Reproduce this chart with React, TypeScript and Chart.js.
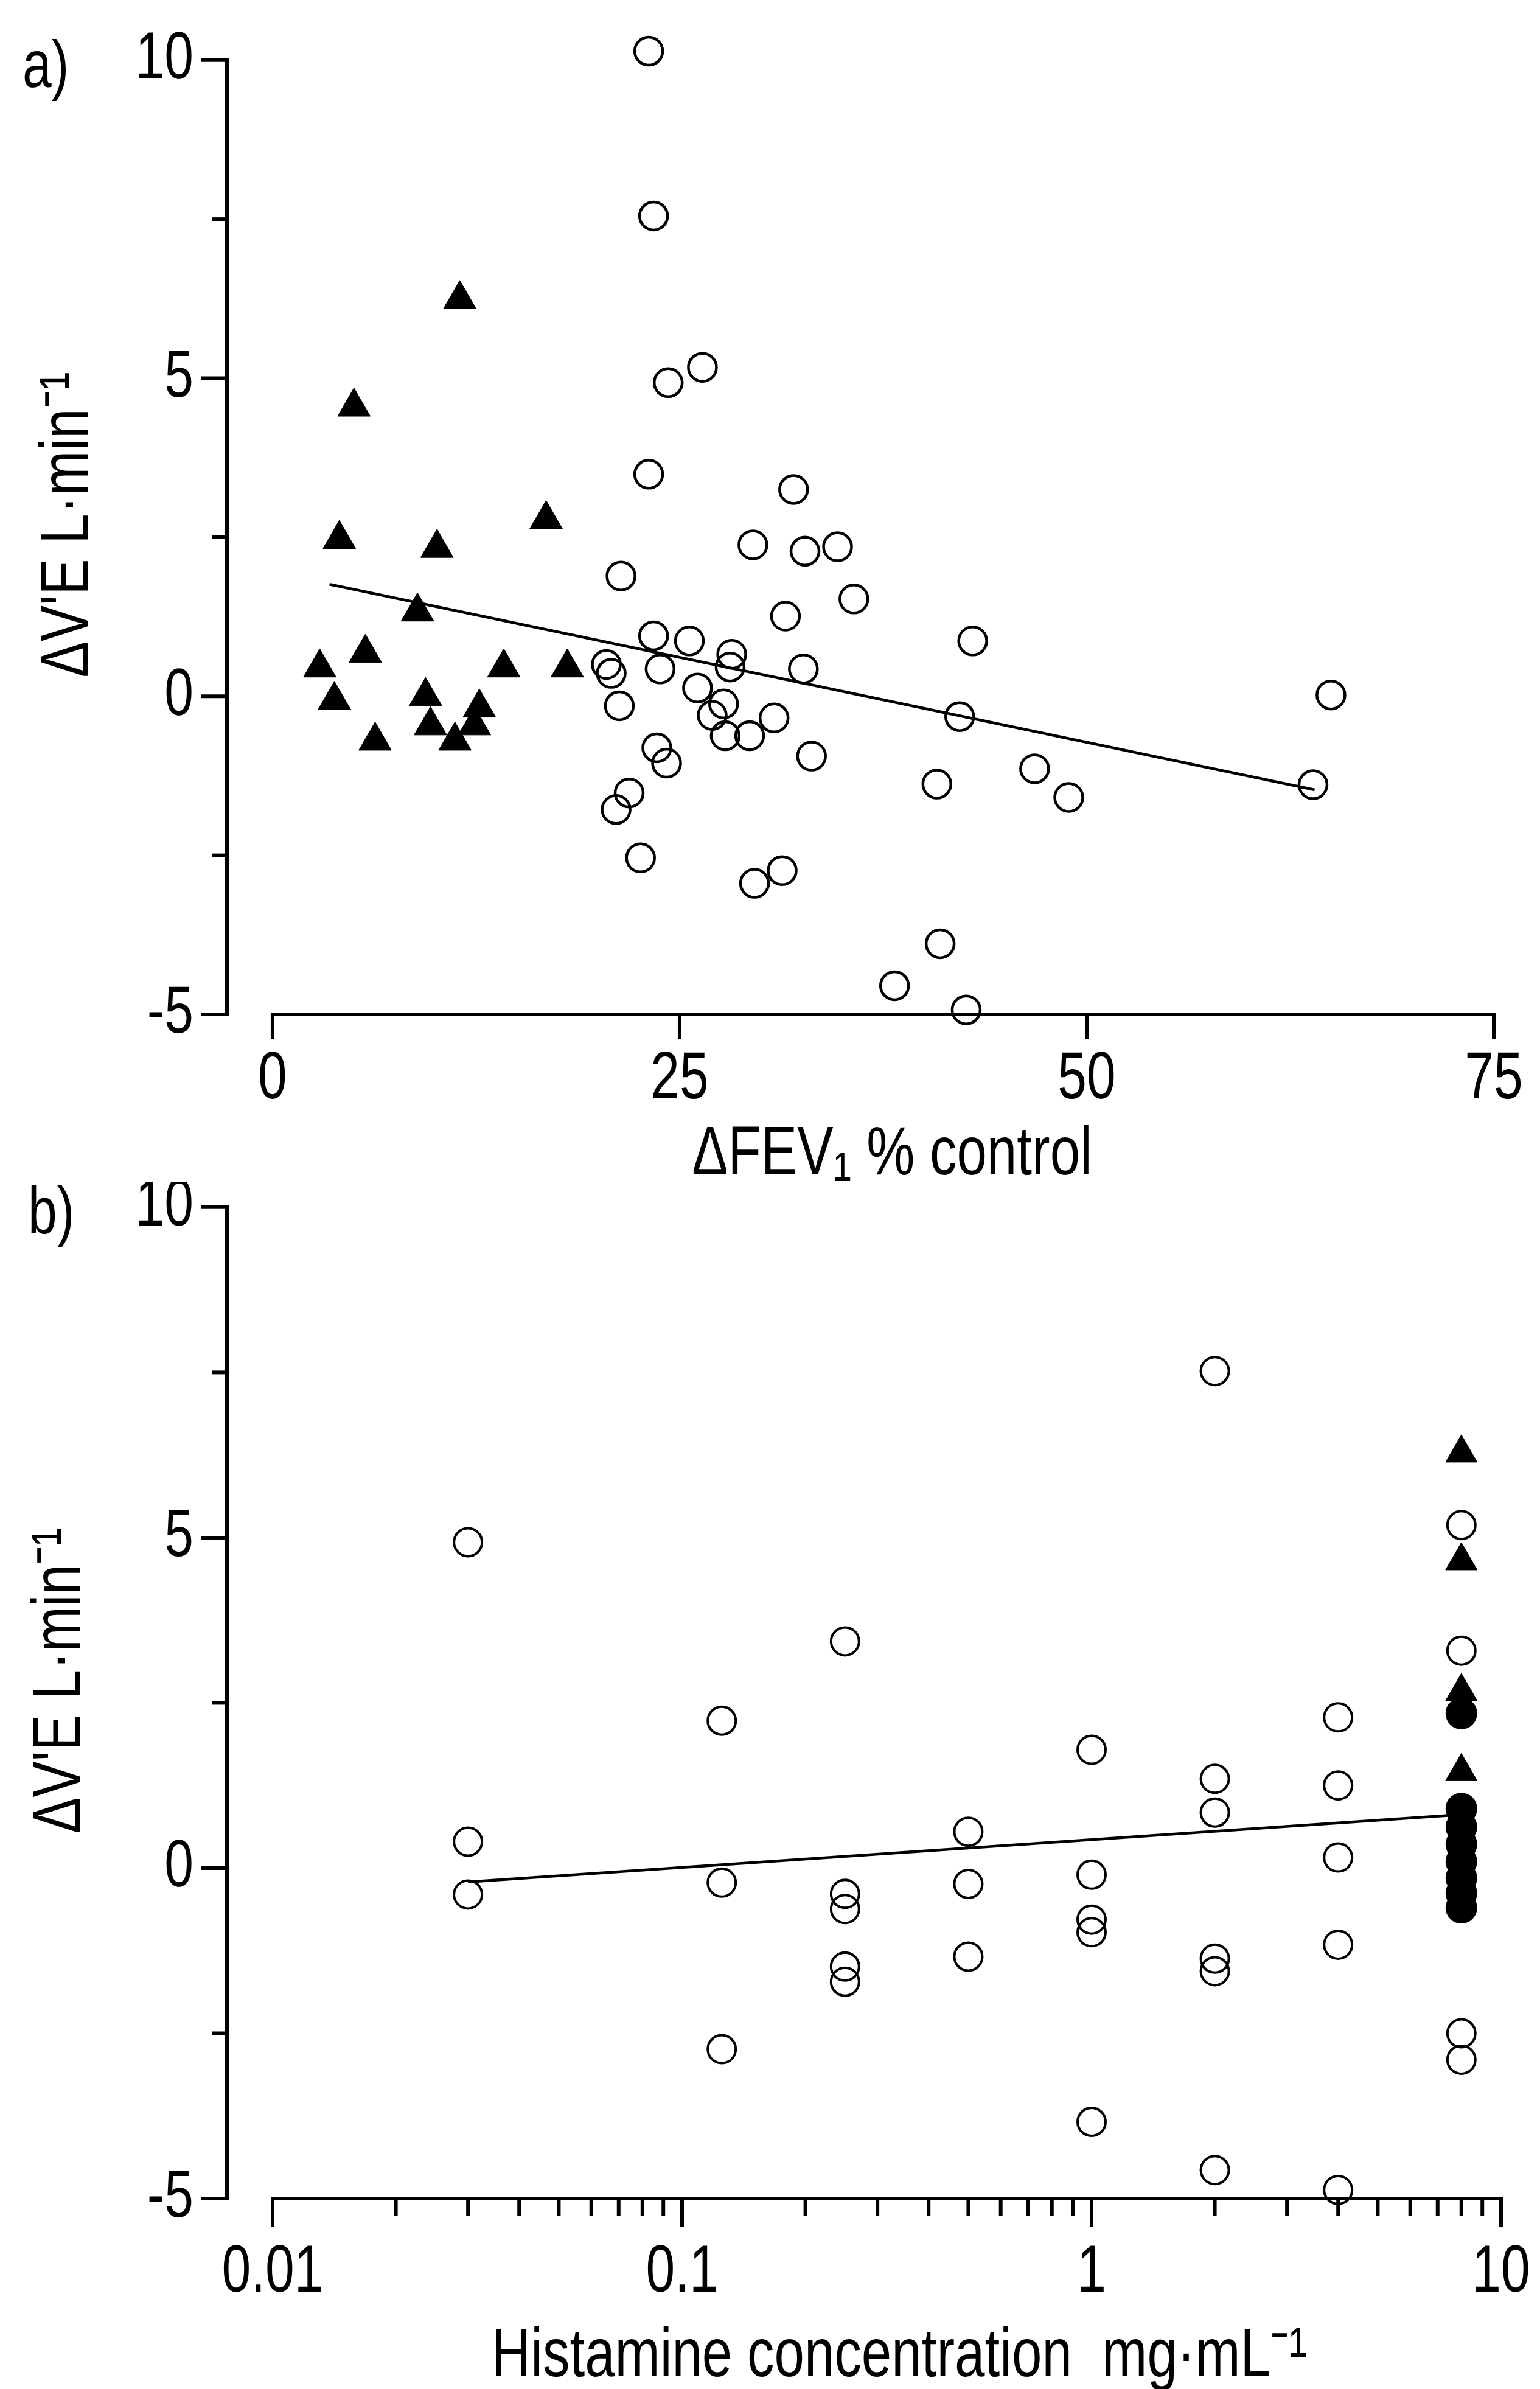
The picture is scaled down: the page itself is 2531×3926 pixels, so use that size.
import React, { useEffect, useRef } from 'react';
import { Chart, registerables } from 'chart.js';

Chart.register(...registerables);

const FONT = "'Liberation Sans', Arial, Helvetica, sans-serif";
const CONDENSE = 0.78; // the original uses a condensed Helvetica

// ---------------- Panel a data ----------------
const aXTicks = [0, 25, 50, 75];
const aYTicks = [-5, 0, 5, 10];
const aYMinor = [-2.5, 2.5, 7.5];

const aOpenX = [23.1, 23.4, 24.3, 26.4, 23.1, 32.0, 29.5, 32.7, 34.7, 35.7, 21.4, 31.5, 23.4, 25.6, 43.0, 28.2, 28.1, 32.6, 20.5, 20.8, 23.8, 21.3, 26.1, 27.7, 27.0, 30.8, 42.2, 65.0, 27.8, 29.3, 33.1, 23.6, 24.2, 46.8, 40.8, 63.9, 48.9, 21.9, 21.1, 22.6, 31.3, 29.6, 41.0, 38.2, 42.6];
const aOpenY = [10.14, 7.55, 4.93, 5.17, 3.49, 3.25, 2.38, 2.28, 2.35, 1.53, 1.89, 1.26, 0.95, 0.87, 0.87, 0.66, 0.46, 0.43, 0.5, 0.36, 0.43, -0.15, 0.13, -0.12, -0.3, -0.34, -0.32, 0.02, -0.62, -0.62, -0.94, -0.81, -1.05, -1.14, -1.38, -1.39, -1.59, -1.52, -1.78, -2.54, -2.74, -2.94, -3.89, -4.55, -4.93];

const aTriX = [11.5, 5.0, 16.8, 4.1, 10.1, 8.9, 5.7, 2.9, 14.2, 18.1, 3.8, 9.4, 12.7, 9.7, 12.4, 11.2, 6.3];
const aTriY = [6.24, 4.55, 2.78, 2.47, 2.33, 1.33, 0.68, 0.45, 0.45, 0.45, -0.06, 0.0, -0.18, -0.46, -0.46, -0.7, -0.7];

const aFitX = [3.5, 64];
const aFitY = [1.76, -1.47];

// ---------------- Panel b data ----------------
const bXTicks = [0.01, 0.1, 1, 10];
const bXTickLabels = ['0.01', '0.1', '1', '10'];
const bXMinor = [0.02, 0.03, 0.04, 0.05, 0.06, 0.07, 0.08, 0.09, 0.2, 0.3, 0.4, 0.5, 0.6, 0.7, 0.8, 0.9, 2, 3, 4, 5, 6, 7, 8, 9];
const bYTicks = [-5, 0, 5, 10];
const bYMinor = [-2.5, 2.5, 7.5];

const bOpenX = [0.03, 0.03, 0.03, 0.125, 0.125, 0.125, 0.25, 0.25, 0.25, 0.25, 0.25, 0.5, 0.5, 0.5, 1, 1, 1, 1, 1, 2, 2, 2, 2, 2, 2, 4, 4, 4, 4, 4, 8, 8, 8, 8];
const bOpenY = [4.93, 0.4, -0.4, 2.23, -0.22, -2.74, 3.43, -0.39, -0.62, -1.49, -1.72, 0.55, -0.24, -1.34, 1.79, -0.1, -0.78, -0.97, -3.84, 7.52, 1.35, 0.84, -1.37, -1.56, -4.57, 2.28, 1.25, 0.16, -1.16, -4.87, 5.19, 3.29, -2.5, -2.9];

const bTriX = [8, 8, 8, 8];
const bTriY = [6.28, 4.65, 2.67, 1.46];

const bFillX = [8, 8, 8, 8, 8, 8, 8, 8];
const bFillY = [2.34, 0.9, 0.62, 0.36, 0.1, -0.15, -0.38, -0.6];

const bFitX = [0.03, 8];
const bFitY = [-0.21, 0.81];

// ---------------- helpers ----------------
const pts = (xs: number[], ys: number[]) => xs.map((x, i) => ({ x, y: ys[i] }));

const fixWidth = (w: number) => (scale: any) => {
  scale.width = w;
  scale.paddingTop = 0; scale.paddingBottom = 0; scale.paddingLeft = 0; scale.paddingRight = 0;
};
const fixHeight = (h: number) => (scale: any) => {
  scale.height = h;
  scale.paddingTop = 0; scale.paddingBottom = 0; scale.paddingLeft = 0; scale.paddingRight = 0;
};

// Draw all canvas text horizontally condensed, like the narrow typeface of the original.
const condensePlugin = {
  id: 'condense',
  beforeInit(chart: any) {
    const ctx = chart.ctx;
    const orig = ctx.fillText;
    ctx.fillText = function (text: string, x: number, y: number, maxWidth?: number) {
      const w = ctx.measureText(text).width * CONDENSE;
      const mw = maxWidth === undefined || maxWidth === null ? w : Math.min(maxWidth, w);
      orig.call(ctx, text, x, y, mw);
    };
  },
};

type AxesCfg = {
  id: string;
  label: string; labelX: number; labelY: number;
  xFrom: number; xTo: number; xMajor: number[]; xMinor: number[];
  yFrom: number; yTo: number; yMajor: number[]; yMinor: number[];
  yMajorLen: number; yMinorLen: number; xMajorLen: number; xMinorLen: number;
  lw: number; titleDx: number; titleDy: number;
};

const axesPlugin = (c: AxesCfg) => ({
  id: c.id,
  afterLayout(chart: any) {
    // shift only the axis-title anchors (scales are already configured)
    const xs = chart.scales.x;
    const ys = chart.scales.y;
    xs.left += c.titleDx; xs.right += c.titleDx;
    ys.top += c.titleDy; ys.bottom += c.titleDy;
  },
  beforeDatasetsDraw(chart: any) {
    const ctx = chart.ctx;
    const xs = chart.scales.x;
    const ys = chart.scales.y;
    ctx.save();
    ctx.strokeStyle = '#000';
    ctx.lineWidth = c.lw;
    ctx.lineCap = 'square';
    const ax = chart.chartArea.left;
    const yTop = ys.getPixelForValue(c.yTo);
    const yBot = ys.getPixelForValue(c.yFrom);
    const seg = (x1: number, y1: number, x2: number, y2: number) => {
      ctx.beginPath(); ctx.moveTo(x1, y1); ctx.lineTo(x2, y2); ctx.stroke();
    };
    // y axis
    seg(ax, yTop, ax, yBot);
    c.yMajor.forEach((v) => { const p = ys.getPixelForValue(v); seg(ax - c.yMajorLen, p, ax, p); });
    c.yMinor.forEach((v) => { const p = ys.getPixelForValue(v); seg(ax - c.yMinorLen, p, ax, p); });
    // x axis
    const xl = xs.getPixelForValue(c.xFrom);
    const xr = xs.getPixelForValue(c.xTo);
    seg(xl, yBot, xr, yBot);
    c.xMajor.forEach((v) => { const p = xs.getPixelForValue(v); seg(p, yBot, p, yBot + c.xMajorLen); });
    c.xMinor.forEach((v) => { const p = xs.getPixelForValue(v); seg(p, yBot, p, yBot + c.xMinorLen); });
    // panel label
    ctx.fillStyle = '#000';
    ctx.font = `110px ${FONT}`;
    ctx.textAlign = 'left';
    ctx.textBaseline = 'alphabetic';
    ctx.fillText(c.label, c.labelX, c.labelY);
    ctx.restore();
  },
});

const tickFont = { family: FONT, size: 110, lineHeight: 1 };
const titleFont = { family: FONT, size: 114, lineHeight: 1 };

function configA(): any {
  return {
    type: 'scatter',
    data: {
      datasets: [
        { label: 'fit', data: pts(aFitX, aFitY), showLine: true, borderColor: '#000', borderWidth: 4.5, pointRadius: 0, fill: false, clip: false },
        { label: 'open', data: pts(aOpenX, aOpenY), pointStyle: 'circle', pointRadius: 23, pointBorderWidth: 4.5, pointBorderColor: '#000', pointBackgroundColor: 'rgba(0,0,0,0)', clip: false },
        { label: 'tri', data: pts(aTriX, aTriY), pointStyle: 'triangle', pointRadius: 31, pointBorderWidth: 1, pointBorderColor: '#000', pointBackgroundColor: '#000', clip: false },
      ],
    },
    options: {
      responsive: true, maintainAspectRatio: false, animation: false, events: [],
      layout: { padding: { top: 36, left: 0, right: 76, bottom: 0 } },
      plugins: { legend: { display: false }, tooltip: { enabled: false } },
      scales: {
        x: {
          type: 'linear', min: -2.8, max: 75,
          afterBuildTicks: (s: any) => { s.ticks = aXTicks.map((v) => ({ value: v })); },
          afterFit: fixHeight(275),
          grid: { display: false, drawTicks: false }, border: { display: false },
          ticks: { font: tickFont, color: '#000', padding: 53, maxRotation: 0, minRotation: 0, autoSkip: false },
          title: { display: true, text: 'ΔFEV₁ % control', color: '#000', font: titleFont, padding: { top: 0, bottom: -13.5 } },
        },
        y: {
          type: 'linear', min: -5, max: 10.6,
          afterBuildTicks: (s: any) => { s.ticks = aYTicks.map((v) => ({ value: v })); },
          afterFit: fixWidth(373),
          grid: { display: false, drawTicks: false }, border: { display: false },
          ticks: { font: tickFont, color: '#000', padding: 55, autoSkip: false },
          title: { display: true, text: "ΔV'E L·min⁻¹", color: '#000', font: titleFont, padding: { top: 57, bottom: 0 } },
        },
      },
    },
    plugins: [condensePlugin, axesPlugin({
      id: 'axesA', label: 'a)', labelX: 37, labelY: 143,
      xFrom: 0, xTo: 75, xMajor: aXTicks, xMinor: [],
      yFrom: -5, yTo: 10, yMajor: aYTicks, yMinor: aYMinor,
      yMajorLen: 40, yMinorLen: 22, xMajorLen: 38, xMinorLen: 22, lw: 6,
      titleDx: 52, titleDy: 11,
    })],
  };
}

function configB(): any {
  return {
    type: 'scatter',
    data: {
      datasets: [
        { label: 'fit', data: pts(bFitX, bFitY), showLine: true, borderColor: '#000', borderWidth: 4.5, pointRadius: 0, fill: false, clip: false },
        { label: 'open', data: pts(bOpenX, bOpenY), pointStyle: 'circle', pointRadius: 23, pointBorderWidth: 4, pointBorderColor: '#000', pointBackgroundColor: 'rgba(0,0,0,0)', clip: false },
        { label: 'filled', data: pts(bFillX, bFillY), pointStyle: 'circle', pointRadius: 25, pointBorderWidth: 2, pointBorderColor: '#000', pointBackgroundColor: '#000', clip: false },
        { label: 'tri', data: pts(bTriX, bTriY), pointStyle: 'triangle', pointRadius: 30, pointBorderWidth: 1, pointBorderColor: '#000', pointBackgroundColor: '#000', clip: false },
      ],
    },
    options: {
      responsive: true, maintainAspectRatio: false, animation: false, events: [],
      layout: { padding: { top: 27, left: 0, right: 64, bottom: 0 } },
      plugins: { legend: { display: false }, tooltip: { enabled: false } },
      scales: {
        x: {
          type: 'logarithmic', min: 0.007736, max: 10,
          afterBuildTicks: (s: any) => { s.ticks = bXTicks.map((v) => ({ value: v })); },
          afterFit: fixHeight(313),
          grid: { display: false, drawTicks: false }, border: { display: false },
          ticks: {
            font: tickFont, color: '#000', padding: 68, maxRotation: 0, minRotation: 0, autoSkip: false,
            callback: (v: any) => {
              const i = bXTicks.findIndex((t) => Math.abs(t - Number(v)) < t * 1e-6);
              return i >= 0 ? bXTickLabels[i] : '';
            },
          },
          title: { display: true, text: 'Histamine concentration  mg·mL⁻¹', color: '#000', font: titleFont, padding: { top: 0, bottom: -4.5 } },
        },
        y: {
          type: 'linear', min: -5, max: 10.1,
          afterBuildTicks: (s: any) => { s.ticks = bYTicks.map((v) => ({ value: v })); },
          afterFit: fixWidth(373),
          grid: { display: false, drawTicks: false }, border: { display: false },
          ticks: { font: tickFont, color: '#000', padding: 55, autoSkip: false },
          title: { display: true, text: "ΔV'E L·min⁻¹", color: '#000', font: titleFont, padding: { top: 44, bottom: 0 } },
        },
      },
    },
    plugins: [condensePlugin, axesPlugin({
      id: 'axesB', label: 'b)', labelX: 46, labelY: 85,
      xFrom: 0.01, xTo: 10, xMajor: bXTicks, xMinor: bXMinor,
      yFrom: -5, yTo: 10, yMajor: bYTicks, yMinor: bYMinor,
      yMajorLen: 40, yMinorLen: 22, xMajorLen: 43, xMinorLen: 25, lw: 6,
      titleDx: 58, titleDy: -31,
    })],
  };
}

function Panel({ make, top, height }: { make: () => any; top: number; height: number }) {
  const ref = useRef<HTMLCanvasElement | null>(null);
  useEffect(() => {
    if (!ref.current) return;
    const chart = new Chart(ref.current, make());
    return () => chart.destroy();
  }, [make]);
  return (
    <div style={{ position: 'absolute', left: 0, top, width: 2531, height }}>
      <canvas ref={ref} />
    </div>
  );
}

export default function App() {
  useEffect(() => {
    document.body.style.margin = '0';
    document.body.style.background = '#fff';
  }, []);
  return (
    <div style={{ position: 'absolute', left: 0, top: 0, width: 2531, height: 3926, background: '#fff', overflow: 'hidden' }}>
      <Panel make={configA} top={0} height={1942} />
      <Panel make={configB} top={1942} height={1984} />
    </div>
  );
}
